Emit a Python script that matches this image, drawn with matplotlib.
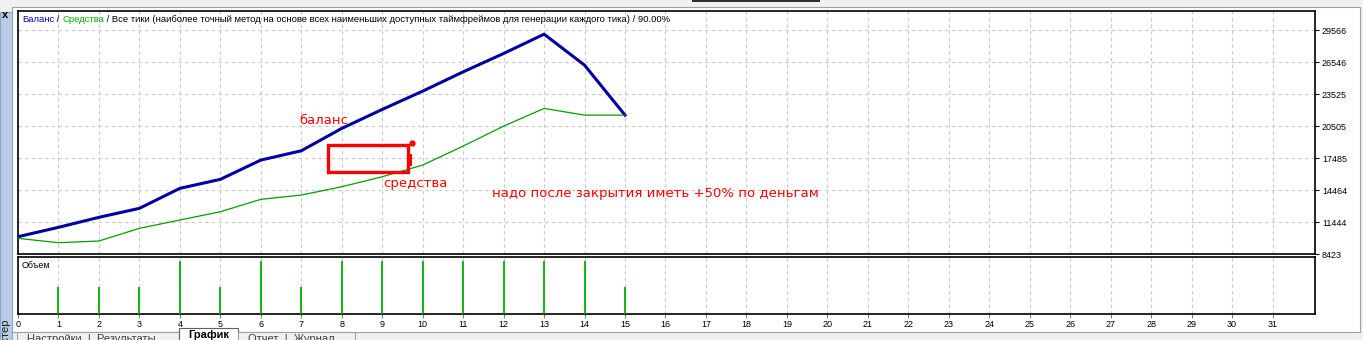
import numpy as np
import matplotlib
matplotlib.use("Agg")
import matplotlib.pyplot as plt
from matplotlib.patches import Rectangle

W, H = 1363, 340

# --- data ---
trade = np.arange(0, 16)
balance = [10056, 10943, 11887, 12737, 14625, 15474, 17296, 18174,
           20288, 22080, 23809, 25630, 27367, 29189, 26263, 21543]
equity = [9905, 9490, 9650, 10849, 11632, 12416, 13586, 13992,
          14776, 15720, 16824, 18617, 20505, 22176, 21543, 21543]
vol_x = np.arange(1, 16)
volume = [1, 1, 1, 2, 1, 2, 1, 2, 2, 2, 2, 2, 2, 2, 1]

y_ticks = [8423, 11444, 14464, 17485, 20505, 23525, 26546, 29566]
x_ticks = list(range(0, 32))

title_parts = [("Баланс", "#0000c8"), (" / ", "black"), ("Средства", "#00b400"),
               (" / Все тики (наиболее точный метод на основе всех наименьших доступных "
                "таймфреймов для генерации каждого тика) / 90.00%", "black")]

UI = ["Liberation Sans", "DejaVu Sans"]
RED = "#ff0000"
BLUE = "#0000a0"
GREEN = "#00a000"
GRID = "#c8c8c8"


def fx(x):
    return x / W


def fy(y):
    return 1 - y / H


fig = plt.figure(figsize=(W / 100, H / 100), dpi=100, facecolor="#f0f0f0")

# window chrome (kept behind the axes)
fig.patches.append(Rectangle((fx(12), fy(332)), fx(1360) - fx(12), fy(7) - fy(332),
                             transform=fig.transFigure, facecolor="white",
                             edgecolor="#a0a0a0", lw=0.8, zorder=-5))
fig.patches.append(Rectangle((0, fy(340)), fx(12), fy(12) - fy(340),
                             transform=fig.transFigure, facecolor="#b8cce4",
                             edgecolor="#8fa8c8", lw=0.8, zorder=-5))
fig.patches.append(Rectangle((fx(692), fy(2)), fx(128), 2 / H,
                             transform=fig.transFigure, facecolor="#303030",
                             edgecolor="none", zorder=-5))
fig.text(fx(5), fy(15), "x", fontsize=8, fontweight="bold", ha="center", va="center",
         family=UI)
fig.text(fx(6), fy(318), "Тестер", rotation=90, fontsize=8, ha="center", va="top",
         family=UI, color="#202020")

# bottom tabs (cut off by the window edge)
fig.patches.append(Rectangle((fx(17), fy(345)), fx(162), fy(332) - fy(345),
                             transform=fig.transFigure, facecolor="#f0f0f0",
                             edgecolor="#a0a0a0", lw=0.8, zorder=-4))
fig.patches.append(Rectangle((fx(179), fy(345)), fx(59), fy(328) - fy(345),
                             transform=fig.transFigure, facecolor="white",
                             edgecolor="#606060", lw=0.8, zorder=-4))
fig.patches.append(Rectangle((fx(238), fy(345)), fx(117), fy(332) - fy(345),
                             transform=fig.transFigure, facecolor="#f0f0f0",
                             edgecolor="#a0a0a0", lw=0.8, zorder=-4))
fig.text(fx(27), fy(334), "Настройки  |  Результаты", fontsize=8, va="top",
         family=UI, color="#404040")
fig.text(fx(188), fy(330), "График", fontsize=8, va="top", fontweight="bold",
         family=UI, color="black")
fig.text(fx(248), fy(334), "Отчет  |  Журнал", fontsize=8, va="top",
         family=UI, color="#404040")

# main balance / equity panel
ax = fig.add_axes([fx(18), fy(254), fx(1315) - fx(18), fy(11) - fy(254)])
ax.set_zorder(2)
ax.plot(trade, balance, color=BLUE, lw=2.2, solid_joinstyle="round", zorder=3)
ax.plot(trade, equity, color=GREEN, lw=0.9, zorder=3)
ax.set_xlim(0, 32.05)
ax.set_ylim(8423, 31380)
ax.set_xticks(x_ticks)
ax.set_yticks(y_ticks)
ax.set_xticklabels([])
ax.yaxis.tick_right()
ax.set_yticklabels([str(v) for v in y_ticks], fontsize=6.5, family=UI)
ax.tick_params(axis="y", length=3, width=0.8, pad=2)
ax.tick_params(axis="x", length=0)
ax.grid(True, color=GRID, ls=(0, (3, 3)), lw=0.8)
for s in ax.spines.values():
    s.set_linewidth(1.2)
    s.set_color("black")

# hand-drawn annotations
rect_x, rect_y = (7.65, 9.63), (16191, 18712)
ax.add_patch(Rectangle((rect_x[0], rect_y[0]), rect_x[1] - rect_x[0], rect_y[1] - rect_y[0],
                       fill=False, edgecolor=RED, lw=2.4, zorder=4))
ax.plot([9.69, 9.69], [16950, 17750], color=RED, lw=2.2, zorder=4)
ax.plot([9.73], [18950], "o", color=RED, ms=3.5, zorder=4)
ax.text(6.94, 21072, "баланс", color=RED, fontsize=9.5, va="center", family="DejaVu Sans")
ax.text(9.02, 15125, "средства", color=RED, fontsize=9.5, va="center", family="DejaVu Sans")
ax.text(11.71, 14181, "надо после закрытия иметь +50% по деньгам", color=RED,
        fontsize=9.5, va="center", family="DejaVu Sans")

# volume panel
av = fig.add_axes([fx(18), fy(314), fx(1315) - fx(18), fy(257) - fy(314)])
av.set_zorder(2)
av.vlines(vol_x, 0, volume, color="#00b000", lw=1.3, zorder=3)
av.set_xlim(0, 32.05)
av.set_ylim(0, 2.15)
av.set_yticks([])
av.set_xticks(x_ticks)
av.set_xticklabels([str(v) for v in x_ticks], fontsize=6.5, family=UI)
av.tick_params(axis="x", length=3, width=0.8, pad=1.5, color="#808080")
av.grid(True, axis="x", color=GRID, ls=(0, (3, 3)), lw=0.8)
for s in av.spines.values():
    s.set_linewidth(1.2)
    s.set_color("black")
av.text(0.003, 0.85, "Объем", transform=av.transAxes, fontsize=6.5,
        va="center", family=UI)

# coloured title, pieces laid side by side
fig.canvas.draw()
rend = fig.canvas.get_renderer()
x0 = fx(22)
for txt, col in title_parts:
    t = fig.text(x0, fy(19), txt, fontsize=6.8, color=col, va="center", family=UI,
                 zorder=10)
    bb = t.get_window_extent(rend)
    x0 += bb.width / W

fig.savefig("out.png", dpi=100, facecolor=fig.get_facecolor())
